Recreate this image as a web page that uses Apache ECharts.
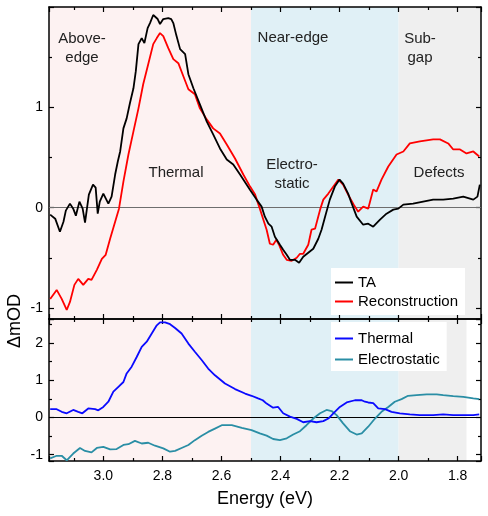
<!DOCTYPE html>
<html><head><meta charset="utf-8">
<script src="https://cdn.jsdelivr.net/npm/echarts@6/dist/echarts.min.js"></script>
<style>html,body{margin:0;padding:0;background:#fff}#c{width:488px;height:516px}</style>
</head><body><div id="c"></div>
<script>
// ---- data (energy in eV, ΔmOD) ----
const taEnergy = [3.180,3.163,3.147,3.135,3.127,3.113,3.102,3.093,3.081,3.070,3.062,3.049,3.035,3.026,3.019,3.012,3.000,2.983,2.972,2.960,2.951,2.943,2.932,2.921,2.910,2.898,2.890,2.881,2.870,2.861,2.850,2.842,2.831,2.816,2.808,2.797,2.780,2.770,2.763,2.753,2.740,2.723,2.712,2.695,2.673,2.650,2.628,2.605,2.582,2.560,2.537,2.504,2.481,2.464,2.453,2.441,2.430,2.419,2.402,2.391,2.379,2.368,2.351,2.337,2.323,2.306,2.289,2.272,2.261,2.249,2.233,2.216,2.200,2.188,2.171,2.160,2.142,2.120,2.103,2.086,2.063,2.041,2.018,2.001,1.984,1.951,1.917,1.883,1.849,1.815,1.781,1.747,1.733,1.725];
const taValue = [-0.07,-0.11,-0.24,-0.14,-0.03,0.04,-0.01,-0.08,0.06,-0.01,-0.15,0.13,0.23,0.20,-0.06,0.06,0.14,0.04,0.11,0.33,0.46,0.56,0.79,0.89,1.04,1.19,1.36,1.63,1.69,1.64,1.79,1.84,1.92,1.88,1.83,1.88,1.89,1.88,1.84,1.72,1.58,1.53,1.33,1.19,1.03,0.86,0.73,0.59,0.48,0.43,0.33,0.18,0.08,0.01,-0.09,-0.16,-0.19,-0.29,-0.37,-0.42,-0.47,-0.52,-0.52,-0.55,-0.49,-0.45,-0.41,-0.31,-0.22,-0.09,0.08,0.21,0.28,0.24,0.14,0.05,-0.09,-0.17,-0.16,-0.19,-0.12,-0.06,-0.02,-0.01,0.03,0.04,0.06,0.08,0.08,0.09,0.11,0.08,0.11,0.23];

const recEnergy = [3.180,3.158,3.141,3.124,3.113,3.098,3.085,3.068,3.051,3.040,3.022,3.005,2.992,2.977,2.960,2.947,2.932,2.915,2.898,2.881,2.865,2.848,2.831,2.819,2.808,2.797,2.780,2.763,2.746,2.729,2.712,2.690,2.673,2.650,2.628,2.605,2.582,2.554,2.526,2.503,2.486,2.470,2.458,2.447,2.436,2.425,2.414,2.405,2.391,2.379,2.362,2.345,2.334,2.323,2.306,2.295,2.283,2.266,2.255,2.238,2.221,2.204,2.188,2.171,2.152,2.137,2.120,2.103,2.086,2.075,2.058,2.035,2.007,1.984,1.962,1.928,1.883,1.860,1.832,1.815,1.792,1.770,1.747,1.727];
const recValue = [-0.91,-0.82,-0.91,-1.02,-0.94,-0.77,-0.71,-0.77,-0.71,-0.72,-0.62,-0.51,-0.47,-0.31,-0.14,-0.01,0.26,0.53,0.76,0.99,1.23,1.43,1.63,1.69,1.74,1.71,1.59,1.48,1.44,1.31,1.18,1.13,0.99,0.88,0.79,0.74,0.63,0.49,0.33,0.21,0.13,-0.01,-0.12,-0.22,-0.36,-0.37,-0.32,-0.37,-0.47,-0.52,-0.53,-0.50,-0.46,-0.46,-0.37,-0.22,-0.21,-0.02,0.08,0.14,0.21,0.28,0.23,0.13,0.03,-0.04,0.01,-0.01,0.18,0.16,0.28,0.41,0.53,0.56,0.64,0.66,0.68,0.68,0.64,0.58,0.58,0.54,0.56,0.51];

const thermalEnergy = [3.180,3.158,3.141,3.124,3.102,3.085,3.071,3.051,3.028,3.017,3.000,2.983,2.966,2.949,2.932,2.921,2.904,2.887,2.870,2.853,2.836,2.819,2.808,2.791,2.774,2.757,2.735,2.712,2.690,2.667,2.645,2.622,2.588,2.554,2.520,2.498,2.476,2.460,2.447,2.425,2.408,2.391,2.368,2.345,2.323,2.300,2.278,2.255,2.238,2.221,2.199,2.176,2.148,2.125,2.114,2.103,2.086,2.069,2.046,2.024,1.996,1.962,1.928,1.883,1.849,1.815,1.781,1.747,1.727];
const thermalValue = [0.22,0.22,0.15,0.11,0.20,0.15,0.11,0.24,0.22,0.19,0.28,0.42,0.69,0.82,0.95,1.18,1.36,1.62,1.89,2.03,2.25,2.47,2.55,2.55,2.50,2.40,2.25,1.98,1.76,1.54,1.31,1.13,0.91,0.76,0.64,0.58,0.51,0.46,0.37,0.26,0.28,0.11,0.02,-0.04,-0.13,-0.10,-0.13,-0.10,-0.03,0.11,0.28,0.40,0.46,0.46,0.42,0.40,0.38,0.24,0.22,0.15,0.11,0.08,0.06,0.06,0.08,0.06,0.06,0.06,0.08];

const electroEnergy = [3.180,3.158,3.141,3.124,3.102,3.079,3.062,3.040,3.022,3.000,2.977,2.955,2.932,2.915,2.893,2.870,2.848,2.825,2.797,2.774,2.757,2.735,2.712,2.690,2.667,2.645,2.622,2.599,2.565,2.531,2.498,2.470,2.447,2.425,2.402,2.379,2.357,2.334,2.312,2.289,2.266,2.244,2.227,2.210,2.188,2.165,2.142,2.125,2.103,2.080,2.058,2.035,2.013,1.990,1.968,1.939,1.905,1.871,1.849,1.815,1.781,1.747,1.727];
const electroValue = [-1.10,-1.03,-1.03,-1.15,-0.97,-0.82,-0.90,-0.94,-0.82,-0.79,-0.86,-0.85,-0.74,-0.72,-0.63,-0.70,-0.68,-0.76,-0.83,-0.92,-0.90,-0.82,-0.74,-0.61,-0.49,-0.39,-0.30,-0.21,-0.21,-0.28,-0.34,-0.43,-0.49,-0.58,-0.61,-0.56,-0.46,-0.37,-0.21,-0.03,0.11,0.20,0.17,0.06,-0.16,-0.37,-0.46,-0.43,-0.25,-0.03,0.15,0.28,0.42,0.49,0.58,0.60,0.62,0.62,0.60,0.57,0.55,0.51,0.49];

// region boundaries (eV)
const regionBounds = [2.5, 2.0];
const bottomGrayEnd = 1.77;
const xLabels = ['3.0','2.8','2.6','2.4','2.2','2.0','1.8'];

const E_MIN = 1.721, E_MAX = 3.184;
const FONT = 'Arial, "Liberation Sans", sans-serif';
const pair = (e, v) => e.map((x, i) => [x, v[i]]);

const chart = echarts.init(document.getElementById('c'), null, {renderer: 'canvas'});

function xAx(grid, pos, labels) {
  return {
    gridIndex: grid, type: 'value', position: pos, inverse: true,
    min: E_MIN, max: E_MAX, minInterval: 0.2, maxInterval: 0.2,
    axisLine: {show: true, onZero: false, lineStyle: {color: '#000', width: 1.5}},
    axisTick: {show: true, inside: true, length: 5, lineStyle: {color: '#000', width: 1.2}},
    minorTick: {show: true, splitNumber: 2, length: 3, lineStyle: {color: '#000', width: 1.2}},
    splitLine: {show: false}, minorSplitLine: {show: false},
    axisLabel: {show: labels, showMinLabel: false, showMaxLabel: false, margin: 8,
      color: '#000', fontSize: 14, fontFamily: FONT,
      formatter: v => { const s = v.toFixed(1); return xLabels.indexOf(s) >= 0 ? s : ''; }}
  };
}
function yAx(grid, pos, labels, mn, mx) {
  return {
    gridIndex: grid, type: 'value', position: pos, min: mn, max: mx,
    minInterval: 1, maxInterval: 1,
    axisLine: {show: true, onZero: false, lineStyle: {color: '#000', width: 1.5}},
    axisTick: {show: true, inside: true, length: 5, lineStyle: {color: '#000', width: 1.2}},
    minorTick: {show: true, splitNumber: 2, length: 3, lineStyle: {color: '#000', width: 1.2}},
    splitLine: {show: false}, minorSplitLine: {show: false},
    axisLabel: {show: labels, showMinLabel: false, showMaxLabel: false, margin: 6,
      color: '#000', fontSize: 14, fontFamily: FONT, formatter: v => String(v)}
  };
}

const pink = 'rgba(253,242,242,1)', blue = 'rgba(224,240,246,1)', gray = 'rgba(239,239,239,1)';

function zeroLine(color) {
  return {silent: true, symbol: 'none', z: 1, label: {show: false},
    lineStyle: {color: color, width: 1, type: 'solid'}, data: [{yAxis: 0}]};
}

function note(x, y, text, size, color) {
  return {type: 'text', x: x, y: y, z: 20, zlevel: 0,
    style: {text: text, font: size + 'px ' + FONT, fill: color, align: 'center', verticalAlign: 'middle',
      textAlign: 'center', textVerticalAlign: 'middle', lineHeight: 19}};
}

const option = {
  backgroundColor: '#fff',
  animation: false,
  grid: [
    {left: 49, right: 7, top: 7, height: 312},
    {left: 49, right: 7, top: 319, height: 142}
  ],
  xAxis: [xAx(0, 'bottom', false), xAx(0, 'top', false), xAx(1, 'bottom', true), xAx(1, 'top', false)],
  yAxis: [yAx(0, 'left', true, -1.11, 2.0), yAx(0, 'right', false, -1.11, 2.0),
          yAx(1, 'left', true, -1.17, 2.64), yAx(1, 'right', false, -1.17, 2.64)],
  legend: [
    {data: ['TA', 'Reconstruction'], orient: 'vertical', left: 331, top: 268,
     backgroundColor: '#fff', padding: [7, 7, 6, 4], itemGap: 4, itemWidth: 18, itemHeight: 2,
     icon: 'rect', selectedMode: false, textStyle: {fontSize: 15, fontFamily: FONT, color: '#000'}},
    {data: ['Thermal', 'Electrostatic'], orient: 'vertical', left: 331, top: 322,
     backgroundColor: '#fff', padding: [9, 7, 4, 4], itemGap: 6, itemWidth: 18, itemHeight: 2,
     icon: 'rect', selectedMode: false, textStyle: {fontSize: 15, fontFamily: FONT, color: '#000'}}
  ],
  series: [
    {name: 'TA', type: 'line', xAxisIndex: 0, yAxisIndex: 0, data: pair(taEnergy, taValue),
     symbol: 'none', z: 3, lineStyle: {color: '#000', width: 1.8}, itemStyle: {color: '#000'},
     markArea: {silent: true, z: 0, data: [
       [{xAxis: E_MAX, itemStyle: {color: pink}}, {xAxis: regionBounds[0]}],
       [{xAxis: regionBounds[0], itemStyle: {color: blue}}, {xAxis: regionBounds[1]}],
       [{xAxis: regionBounds[1], itemStyle: {color: gray}}, {xAxis: E_MIN}]
     ]},
     markLine: zeroLine('#6e6e6e')},
    {name: 'Reconstruction', type: 'line', xAxisIndex: 0, yAxisIndex: 0, data: pair(recEnergy, recValue),
     symbol: 'none', z: 2, lineStyle: {color: '#ff0000', width: 1.8}, itemStyle: {color: '#ff0000'}},
    {name: 'Thermal', type: 'line', xAxisIndex: 2, yAxisIndex: 2, data: pair(thermalEnergy, thermalValue),
     symbol: 'none', z: 3, lineStyle: {color: '#0a0aff', width: 1.8}, itemStyle: {color: '#0a0aff'},
     markArea: {silent: true, z: 0, data: [
       [{xAxis: E_MAX, itemStyle: {color: pink}}, {xAxis: regionBounds[0]}],
       [{xAxis: regionBounds[0], itemStyle: {color: blue}}, {xAxis: regionBounds[1]}],
       [{xAxis: regionBounds[1], itemStyle: {color: gray}}, {xAxis: bottomGrayEnd}]
     ]},
     markLine: zeroLine('#000')},
    {name: 'Electrostatic', type: 'line', xAxisIndex: 2, yAxisIndex: 2, data: pair(electroEnergy, electroValue),
     symbol: 'none', z: 2, lineStyle: {color: '#2a8ea5', width: 1.8}, itemStyle: {color: '#2a8ea5'}}
  ],
  graphic: {elements: [
    note(82, 48, 'Above-\nedge', 15, '#222'),
    note(176, 173, 'Thermal', 15, '#222'),
    note(293, 38, 'Near-edge', 15, '#222'),
    note(292, 174, 'Electro-\nstatic', 15, '#222'),
    note(420, 48, 'Sub-\ngap', 15, '#222'),
    note(439, 173, 'Defects', 15, '#222'),
    note(265, 499, 'Energy (eV)', 18, '#000'),
    Object.assign(note(15, 321, 'ΔmOD', 18, '#000'), {rotation: Math.PI / 2})
  ]}
};
chart.setOption(option);
</script>
</body></html>
